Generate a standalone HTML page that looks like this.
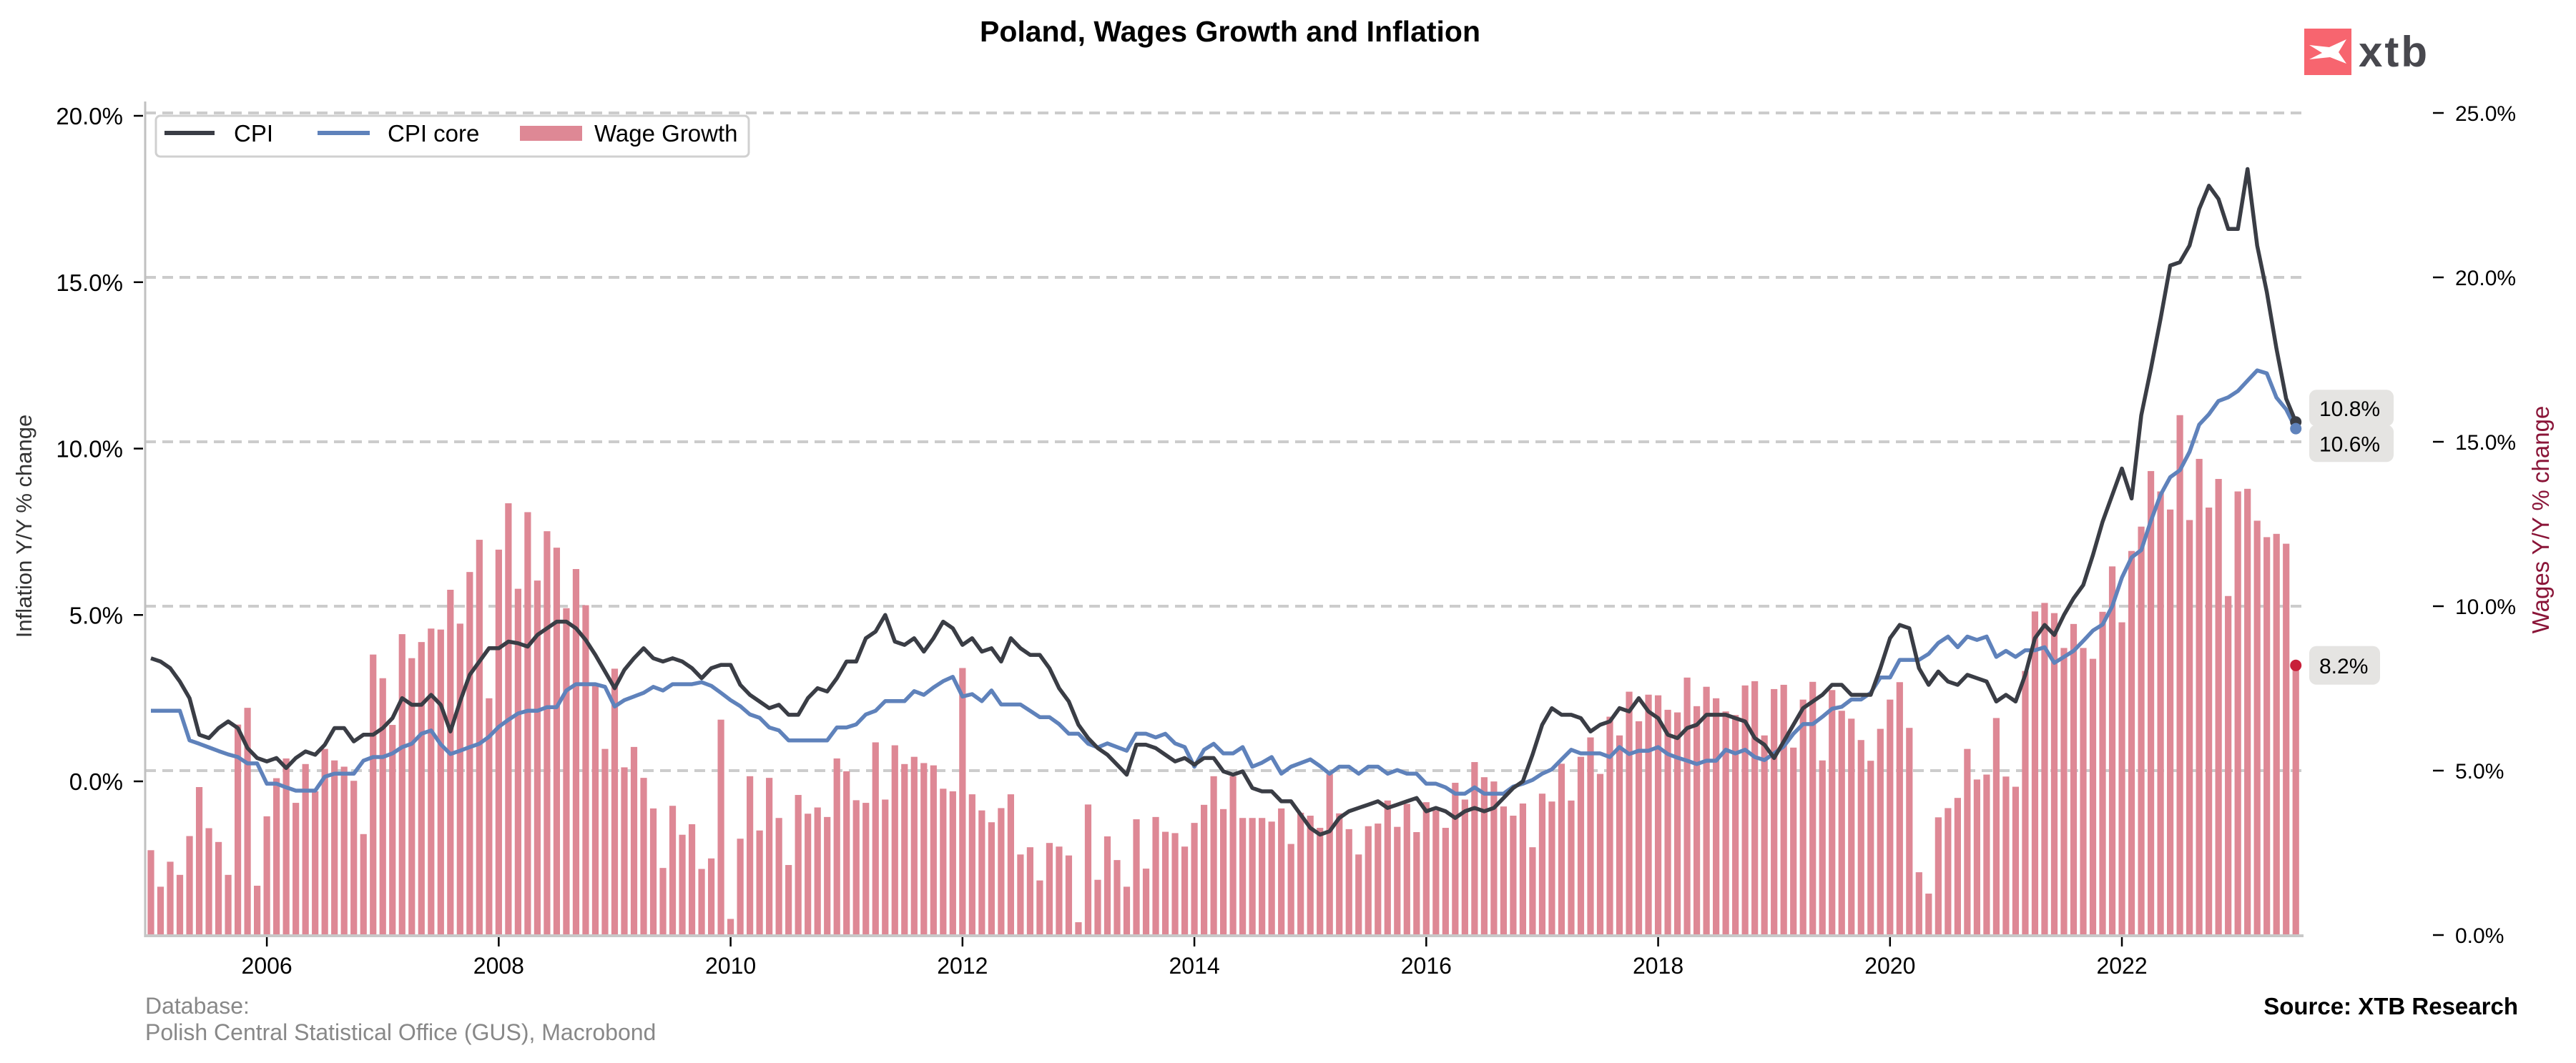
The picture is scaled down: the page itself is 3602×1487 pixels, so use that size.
<!DOCTYPE html>
<html>
<head>
<meta charset="utf-8">
<style>
html,body{margin:0;padding:0;background:#fff;}
body{width:3602px;height:1487px;overflow:hidden;}
svg{display:block;font-family:"Liberation Sans",Arial,sans-serif;}
</style>
</head>
<body>
<svg id="chart" width="3602" height="1487" viewBox="0 0 3602 1487" xmlns="http://www.w3.org/2000/svg">
  <rect x="0" y="0" width="3602" height="1487" fill="#ffffff"/>
  <text x="1720" y="58" text-anchor="middle" font-size="41" font-weight="bold" fill="#000">Poland, Wages Growth and Inflation</text>

  <g>
    <rect x="3222" y="40" width="66" height="65" fill="#f7656f"/>
    <path d="M3229 63 L3257 66 L3281 55 L3270 73 L3281 89 L3258 80 L3229 83 L3247 74 Z" fill="#ffffff"/>
    <text x="3298" y="93" font-size="60" font-weight="bold" letter-spacing="3" fill="#48484e">xtb</text>
  </g>

  <g id="grid"></g>
  <g id="bars"></g>
  <g id="lines"></g>
  <g id="axes"></g>
  <g id="annot"></g>

  <g>
    <rect x="218" y="162" width="829" height="57" rx="6" fill="#ffffff" stroke="#d0d0d0" stroke-width="3"/>
    <line x1="230" y1="186" x2="300" y2="186" stroke="#3a3d45" stroke-width="6"/>
    <text x="327" y="198" font-size="33" fill="#000">CPI</text>
    <line x1="444" y1="186" x2="517" y2="186" stroke="#5f82bb" stroke-width="6"/>
    <text x="542" y="198" font-size="33" fill="#000">CPI core</text>
    <rect x="727" y="176" width="87" height="21" fill="#de8895"/>
    <text x="831" y="198" font-size="33" fill="#000">Wage Growth</text>
  </g>

  <text transform="translate(44,736) rotate(-90)" text-anchor="middle" font-size="31" fill="#333">Inflation Y/Y % change</text>
  <text transform="translate(3564,727) rotate(-90)" text-anchor="middle" font-size="33" fill="#8a1538">Wages Y/Y % change</text>

  <text x="203" y="1418" font-size="32" fill="#888">Database:</text>
  <text x="203" y="1455" font-size="32" fill="#888">Polish Central Statistical Office (GUS), Macrobond</text>
  <text x="3521" y="1419" text-anchor="end" font-size="33" font-weight="bold" fill="#000">Source: XTB Research</text>
</svg>
<script>
// ---- data (monthly, Jan 2005 .. Jul 2023) ----
const startYear = 2005;
const cpiValues = [
3.7,3.6,3.4,3.0,2.5,1.4,1.3,1.6,1.8,1.6,1.0,0.7,
0.6,0.7,0.4,0.7,0.9,0.8,1.1,1.6,1.6,1.2,1.4,1.4,
1.6,1.9,2.5,2.3,2.3,2.6,2.3,1.5,2.4,3.2,3.6,4.0,
4.0,4.2,4.15,4.05,4.4,4.6,4.8,4.8,4.6,4.25,3.8,3.3,
2.8,3.35,3.7,4.0,3.7,3.6,3.7,3.6,3.4,3.1,3.4,3.5,
3.5,2.9,2.6,2.4,2.2,2.3,2.0,2.0,2.5,2.8,2.7,3.1,
3.6,3.6,4.3,4.5,5.0,4.2,4.1,4.3,3.9,4.3,4.8,4.6,
4.1,4.3,3.9,4.0,3.6,4.3,4.0,3.8,3.8,3.4,2.8,2.4,
1.7,1.3,1.0,0.8,0.5,0.2,1.1,1.1,1.0,0.8,0.6,0.7,
0.5,0.7,0.7,0.3,0.2,0.3,-0.2,-0.3,-0.3,-0.6,-0.6,-1.0,
-1.4,-1.6,-1.5,-1.1,-0.9,-0.8,-0.7,-0.6,-0.8,-0.7,-0.6,-0.5,
-0.9,-0.8,-0.9,-1.1,-0.9,-0.8,-0.9,-0.8,-0.5,-0.2,0.0,0.8,
1.7,2.2,2.0,2.0,1.9,1.5,1.7,1.8,2.2,2.1,2.5,2.1,
1.9,1.4,1.3,1.6,1.7,2.0,2.0,2.0,1.9,1.8,1.3,1.1,
0.7,1.2,1.7,2.2,2.4,2.6,2.9,2.9,2.6,2.6,2.6,3.4,
4.3,4.7,4.6,3.4,2.9,3.3,3.0,2.9,3.2,3.1,3.0,2.4,
2.6,2.4,3.2,4.3,4.7,4.4,5.0,5.5,5.9,6.8,7.8,8.6,
9.4,8.5,11.0,12.4,13.9,15.5,15.6,16.1,17.2,17.9,17.5,16.6,
16.6,18.4,16.1,14.7,13.0,11.5,10.8];
const coreValues = [
2.12,2.12,2.12,2.12,1.23,1.13,1.02,0.91,0.81,0.73,0.54,0.54,
-0.07,-0.07,-0.18,-0.28,-0.28,-0.28,0.14,0.23,0.23,0.23,0.62,0.73,
0.73,0.84,1.03,1.13,1.43,1.53,1.11,0.82,0.92,1.03,1.13,1.34,
1.64,1.85,2.04,2.12,2.12,2.23,2.23,2.73,2.92,2.92,2.92,2.84,
2.25,2.44,2.55,2.66,2.84,2.73,2.92,2.92,2.92,2.98,2.87,2.66,
2.44,2.26,2.01,1.91,1.62,1.53,1.23,1.23,1.23,1.23,1.23,1.62,
1.62,1.71,2.01,2.12,2.41,2.41,2.41,2.71,2.60,2.82,3.01,3.14,
2.55,2.62,2.41,2.73,2.31,2.31,2.31,2.12,1.93,1.93,1.72,1.43,
1.43,1.13,1.02,1.14,1.03,0.92,1.43,1.43,1.32,1.43,1.14,1.03,
0.44,0.95,1.13,0.84,0.84,1.03,0.44,0.56,0.73,0.23,0.44,0.55,
0.66,0.46,0.23,0.44,0.44,0.23,0.44,0.44,0.23,0.34,0.23,0.23,
-0.07,-0.07,-0.18,-0.37,-0.37,-0.18,-0.37,-0.37,-0.37,-0.16,-0.07,0.04,
0.23,0.36,0.66,0.95,0.84,0.84,0.84,0.73,1.03,0.82,0.92,0.92,
1.03,0.82,0.71,0.62,0.52,0.62,0.62,0.95,0.84,0.95,0.73,0.64,
0.84,1.05,1.43,1.72,1.72,1.94,2.18,2.24,2.46,2.46,2.66,3.12,
3.12,3.65,3.65,3.65,3.83,4.16,4.35,4.03,4.35,4.25,4.35,3.74,
3.92,3.74,3.94,3.94,4.03,3.56,3.74,3.92,4.22,4.53,4.71,5.26,
6.12,6.73,6.95,7.83,8.61,9.14,9.35,9.90,10.72,11.03,11.43,11.54,
11.73,12.04,12.35,12.26,11.53,11.18,10.6];
const wageValues = [
2.58,1.47,2.23,1.83,3.01,4.50,3.25,2.83,1.83,6.40,6.91,1.50,
3.61,4.77,5.37,4.02,5.20,4.37,5.66,5.31,5.12,4.69,3.07,8.53,
7.81,6.39,9.15,8.42,8.91,9.32,9.29,10.50,9.47,11.04,12.02,7.20,
11.72,13.13,10.53,12.86,10.78,12.28,11.78,9.94,11.13,10.03,7.61,5.66,
8.10,5.10,5.72,4.78,3.85,2.04,3.93,3.05,3.37,2.01,2.33,6.55,
0.49,2.93,4.83,3.18,4.78,3.56,2.13,4.26,3.69,3.88,3.59,5.37,
4.98,4.10,4.02,5.86,4.12,5.77,5.20,5.42,5.23,5.16,4.45,4.37,
8.12,4.28,3.79,3.43,3.86,4.28,2.45,2.67,1.66,2.80,2.69,2.42,
0.39,3.97,1.68,3.00,2.28,1.47,3.52,2.02,3.59,3.14,3.10,2.69,
3.41,3.96,4.83,3.83,4.83,3.56,3.56,3.56,3.45,3.85,2.77,3.72,
3.63,3.26,4.89,3.70,3.22,2.45,3.31,3.39,4.09,3.29,3.99,3.13,
4.04,3.79,3.26,4.63,4.12,5.26,4.80,4.67,3.91,3.63,4.00,2.67,
4.30,4.06,5.21,4.09,5.42,6.01,4.90,6.64,6.07,7.40,6.50,7.31,
7.29,6.85,6.77,7.83,6.96,7.55,7.20,6.80,6.69,7.59,7.72,6.07,
7.48,7.61,5.70,7.16,7.70,5.31,7.45,6.82,6.58,5.93,5.30,6.27,
7.16,7.69,6.30,1.91,1.26,3.58,3.86,4.17,5.66,4.73,4.88,6.60,
4.82,4.51,8.03,9.84,10.10,9.79,8.73,9.46,8.73,8.40,9.83,11.21,
9.51,11.68,12.42,14.11,13.49,12.94,15.81,12.62,14.48,13.00,13.87,10.31,
13.49,13.57,12.60,12.10,12.20,11.90,8.2];
const xTickYears = [2006,2008,2010,2012,2014,2016,2018,2020,2022];
const leftTickValues = [0,5,10,15,20];
const rightTickValues = [0,5,10,15,20,25];

// ---- scales ----
const NS = "http://www.w3.org/2000/svg";
const plotLeft = 203, plotRight = 3221, plotTop = 142, plotBottom = 1308;
function xMonth(i){ return 211 + 13.51 * i; }
function xYear(y){ return xMonth((y - startYear) * 12); }
function yLeft(v){ return 1093 - 46.55 * v; }
function yRight(v){ return 1308 - 46.0 * v; }
function mk(tag, attrs, parent){
  const el = document.createElementNS(NS, tag);
  for (const k in attrs) el.setAttribute(k, attrs[k]);
  parent.appendChild(el);
  return el;
}
const grid = document.getElementById('grid');
const bars = document.getElementById('bars');
const lines = document.getElementById('lines');
const axes = document.getElementById('axes');
const annot = document.getElementById('annot');

rightTickValues.forEach(function(v){
  if (v === 0) return;
  const g = mk('line', {x1: plotLeft, x2: plotRight, y1: yRight(v), y2: yRight(v), stroke: '#cccccc', 'stroke-width': 4, 'stroke-dasharray': '15 9'}, grid);
  
  
});

wageValues.forEach(function(v, i){
  const y = yRight(v);
  const b = mk('rect', {x: xMonth(i) - 4.6, y: y, width: 9.2, height: plotBottom - y, fill: '#de8895'}, bars);
  
  
});

function linePath(vals, yf){
  return vals.map(function(v, i){ return (i ? 'L' : 'M') + xMonth(i).toFixed(1) + ' ' + yf(v).toFixed(1); }).join(' ');
}
const coreLine = mk('path', {d: linePath(coreValues, yLeft), fill: 'none', stroke: '#5f82bb', 'stroke-width': 5.5, 'stroke-linejoin': 'round'}, lines);


const cpiLine = mk('path', {d: linePath(cpiValues, yLeft), fill: 'none', stroke: '#3a3d45', 'stroke-width': 5.5, 'stroke-linejoin': 'round'}, lines);



const ls = mk('line', {x1: plotLeft, x2: plotLeft, y1: plotTop, y2: plotBottom + 3, stroke: '#c0c0c0', 'stroke-width': 3}, axes);


const bs = mk('line', {x1: plotLeft, x2: plotRight, y1: plotBottom + 1, y2: plotBottom + 1, stroke: '#c8c8c8', 'stroke-width': 4}, axes);



xTickYears.forEach(function(yr){
  const x = xYear(yr);
  const t = mk('line', {x1: x, x2: x, y1: plotBottom + 3, y2: plotBottom + 16, stroke: '#000', 'stroke-width': 2.5}, axes);
  
  
  const l = mk('text', {x: x, y: 1362, 'text-anchor': 'middle', 'font-size': 32, fill: '#000'}, axes);
  l.textContent = yr;
  
  
});
leftTickValues.forEach(function(v){
  const y = yLeft(v);
  const t = mk('line', {x1: 187, x2: 200, y1: y, y2: y, stroke: '#000', 'stroke-width': 2.5}, axes);
  
  
  const l = mk('text', {x: 172, y: y + 12, 'text-anchor': 'end', 'font-size': 33, fill: '#000'}, axes);
  l.textContent = v.toFixed(1) + '%';
  
  
});
rightTickValues.forEach(function(v){
  const y = yRight(v);
  const t = mk('line', {x1: 3402, x2: 3417, y1: y, y2: y, stroke: '#000', 'stroke-width': 2.5}, axes);
  
  
  const l = mk('text', {x: 3433, y: y + 11, 'font-size': 30, fill: '#000'}, axes);
  l.textContent = v.toFixed(1) + '%';
  
  
});

const last = cpiValues.length - 1;
const lastX = xMonth(last);
const cpiDot = mk('circle', {cx: lastX, cy: yLeft(cpiValues[last]), r: 8, fill: '#3a3d45'}, annot);


const coreDot = mk('circle', {cx: lastX, cy: yLeft(coreValues[coreValues.length - 1]), r: 8, fill: '#5f82bb'}, annot);


const wageDot = mk('circle', {cx: xMonth(wageValues.length - 1), cy: yRight(wageValues[wageValues.length - 1]), r: 8, fill: '#c8203a'}, annot);



function valueBox(x, yTop, w, h, txt, name){
  const r = mk('rect', {x: x, y: yTop, width: w, height: h, rx: 10, fill: '#e5e4e2'}, annot);
  
  
  const t = mk('text', {x: x + 14, y: yTop + h / 2 + 11, 'font-size': 30, fill: '#000'}, annot);
  t.textContent = txt;
  
  
}
const cpiBoxY = yLeft(cpiValues[last]) - 45;
valueBox(3229, cpiBoxY, 118, 51, cpiValues[last].toFixed(1) + '%', 'cpi-value');
valueBox(3229, cpiBoxY + 49, 118, 52, coreValues[coreValues.length - 1].toFixed(1) + '%', 'core-value');
valueBox(3229, yRight(wageValues[wageValues.length - 1]) - 27, 99, 54, wageValues[wageValues.length - 1].toFixed(1) + '%', 'wage-value');
</script>
</body>
</html>
